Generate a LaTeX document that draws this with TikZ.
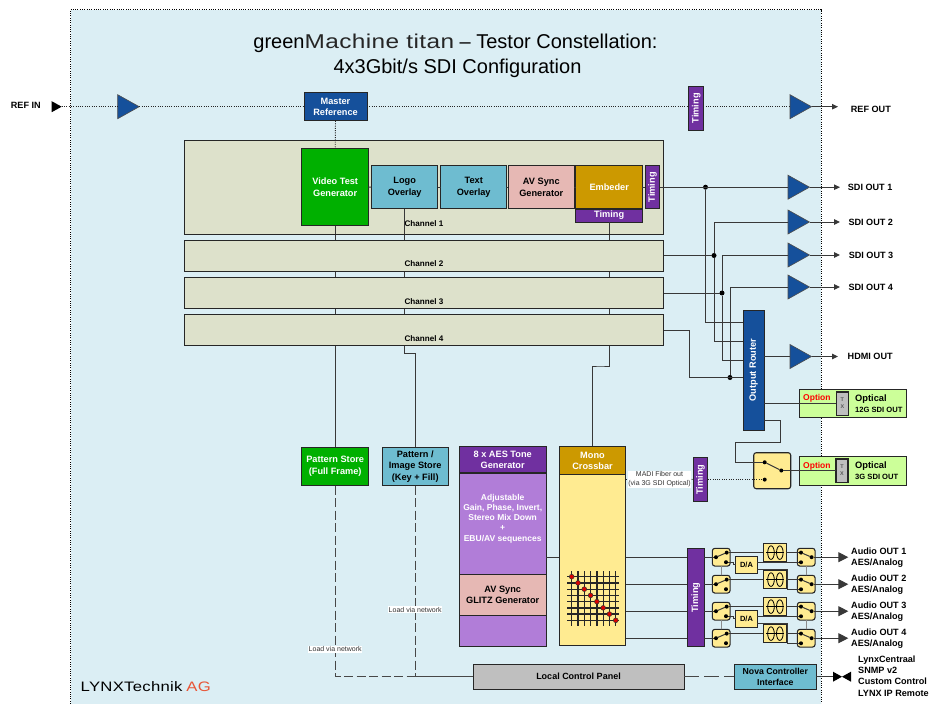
\documentclass[tikz,border=0pt]{standalone}
\usepackage{fontspec}
\setmainfont{Liberation Sans}
\newfontfamily\widefont[FakeStretch=1.22,LetterSpace=2]{Liberation Sans}
\usepackage{xcolor}
\usepackage{tikz}
\usetikzlibrary{shapes.geometric, arrows.meta, positioning}
\definecolor{panelblue}{RGB}{219,238,244}
\definecolor{routerblue}{RGB}{21,80,155}
\definecolor{chanolive}{RGB}{221,225,203}
\definecolor{videogreen}{RGB}{0,176,0}
\definecolor{overlayteal}{RGB}{110,188,208}
\definecolor{syncpink}{RGB}{230,184,180}
\definecolor{embedgold}{RGB}{204,153,0}
\definecolor{timingpurple}{RGB}{112,48,160}
\definecolor{tonepurple}{RGB}{177,125,216}
\definecolor{crossyellow}{RGB}{255,235,145}
\definecolor{optiongreen}{RGB}{204,255,153}
\definecolor{panelgrey}{RGB}{191,191,191}
\definecolor{lynxred}{RGB}{232,85,55}
\newcommand\boxfont{\fontsize{9.2}{11.5}\selectfont\bfseries}
\newcommand\tinyfont{\fontsize{7}{8.5}\selectfont}
\pgfdeclarelayer{panel}
\pgfdeclarelayer{wires}
\pgfsetlayers{panel,wires,main}
\tikzset{
  basebox/.style={draw=black!85, line width=1pt, inner sep=0pt, outer sep=0pt, align=center, font=\boxfont},
  bluebox/.style={basebox, fill=routerblue, text=white},
  greenbox/.style={basebox, fill=videogreen, text=white},
  tealbox/.style={basebox, fill=overlayteal},
  pinkbox/.style={basebox, fill=syncpink},
  goldbox/.style={basebox, fill=embedgold, text=white},
  purplebox/.style={basebox, fill=timingpurple, text=white},
  lilacbox/.style={basebox, fill=tonepurple, text=white},
  chanbox/.style={basebox, fill=chanolive},
  yellowbox/.style={basebox, fill=crossyellow},
  switchbox/.style={yellowbox, line width=1.1pt, rounded corners=2.5pt},
  optionbox/.style={basebox, fill=optiongreen, minimum width=106.5, minimum height=28.4},
  txbox/.style={basebox, line width=1.5pt, fill=panelgrey, text=black!65, font=\fontsize{5.4}{7}\selectfont\bfseries},
  buffer/.style={isosceles triangle, isosceles triangle stretches, shape border rotate=0, draw=black!70, line width=.6pt, fill=routerblue, inner sep=0pt, outer sep=0pt, minimum width=24, minimum height=21.5, anchor=west},
  blacktip/.style={isosceles triangle, isosceles triangle stretches, fill=black, inner sep=0pt, outer sep=0pt, minimum width=10, minimum height=9, anchor=apex},
  contact/.style={circle, fill=black, inner sep=0pt, outer sep=0pt, minimum size=4},
  junction/.style={circle, fill=black, inner sep=0pt, outer sep=0pt, minimum size=5},
  wire/.style={draw=black!78, line width=1pt},
  dotwire/.style={draw=black!85, line width=.9pt, dash pattern=on 1pt off 1.3pt},
  netwire/.style={draw=black!72, line width=1.1pt, dash pattern=on 9pt off 3.5pt},
  gangwire/.style={draw=black!45, line width=.8pt, dash pattern=on 2.5pt off .6pt},
  outlabel/.style={anchor=west, inner sep=0pt, align=left, font=\fontsize{9.1}{11.4}\selectfont\bfseries},
  netlabel/.style={fill=white, inner sep=.8pt, align=center, font=\tinyfont, text=black!80},
  grid line/.style={draw=black!85, line width=1.3pt},
  crosspoint/.style={circle, draw=black!80, line width=.5pt, fill=red!85!black, inner sep=0pt, minimum size=4.8},
}
\begin{document}
\begin{tikzpicture}[x=1pt,y=-1pt]
  \useasboundingbox (0,0) rectangle (932,704);
  \begin{pgfonlayer}{panel}
    \fill[panelblue] (70.5,9.5) rectangle (821,704);
    \draw[draw=black, line width=.9pt, dash pattern=on 1pt off 1.3pt] (70.5,704) -- (70.5,9.5) -- (821,9.5) -- (821,704);
  \end{pgfonlayer}

  \node[font=\fontsize{20}{25}\selectfont, align=center] (title) at (455.5,55.5)
    {green{\widefont\color{black!85}Machine titan} -- Testor Constellation:\\\hspace{4pt}4x3Gbit/s SDI Configuration};
  \node[anchor=west, inner sep=0pt, font=\fontsize{13.7}{16}\selectfont] (lynxlogo) at (80.5,687)
    {{\widefont LYNXTechnik} {\widefont\color{lynxred}AG}};

  \node[outlabel] (refinlabel) at (10.7,105.7) {REF IN};
  \node[blacktip, minimum width=11, minimum height=10] (refintip) at (61.7,106.7) {};
  \node[buffer] (bufin) at (117.7,106.7) {};
  \node[bluebox, minimum width=63, minimum height=28.5] (masterref) at (335.5,106.7) {Master\\Reference};
  \node[purplebox, minimum width=14.5, minimum height=43.5] (timingref) at (696.2,108.3) {\rotatebox{90}{Timing}};
  \node[buffer] (bufrefout) at (790,106.7) {};
  \coordinate (refoutend) at (838,106.7);
  \node[outlabel] (refoutlabel) at (850.7,109.3) {REF OUT};

  \node[chanbox, minimum width=479.4, minimum height=94] (chan1) at (424,187) {};
  \node[chanbox, minimum width=479.4, minimum height=31] (chan2) at (424,255.5) {};
  \node[chanbox, minimum width=479.4, minimum height=31] (chan3) at (424,293) {};
  \node[chanbox, minimum width=479.4, minimum height=31.5] (chan4) at (424,330.2) {};

  \node[greenbox, minimum width=66.5, minimum height=77] (videogen) at (335.2,187) {Video Test\\Generator};
  \node[tealbox, minimum width=66.5, minimum height=43.5] (logo) at (404.7,187.2) {Logo\\Overlay};
  \node[tealbox, minimum width=65.5, minimum height=43.5] (textov) at (473.7,187.2) {Text\\Overlay};
  \node[pinkbox, minimum width=66, minimum height=43.5] (avsync) at (541.3,187.2) {AV Sync\\Generator};
  \node[goldbox, minimum width=66.5, minimum height=43.5] (embed) at (609.2,187.2) {Embeder};
  \node[purplebox, minimum width=66.5, minimum height=13] (timingbar) at (609.2,215.5) {Timing};
  \node[purplebox, minimum width=14.7, minimum height=43.5] (timingch) at (652.6,187.2) {\rotatebox{90}{Timing}};

  \node[font=\fontsize{8.1}{10}\selectfont\bfseries, inner sep=0pt] (chanlabel1) at (424,223.5) {Channel 1};
  \node[font=\fontsize{8.1}{10}\selectfont\bfseries, inner sep=0pt] (chanlabel2) at (424,263.5) {Channel 2};
  \node[font=\fontsize{8.1}{10}\selectfont\bfseries, inner sep=0pt] (chanlabel3) at (424,301.5) {Channel 3};
  \node[font=\fontsize{8.1}{10}\selectfont\bfseries, inner sep=0pt] (chanlabel4) at (424,338.5) {Channel 4};

  \node[buffer] (buf1) at (788,187.2) {};
  \node[buffer] (buf2) at (788,222) {};
  \node[buffer] (buf3) at (788,255) {};
  \node[buffer] (buf4) at (788,287) {};
  \node[buffer] (bufhdmi) at (790,356.5) {};
  \coordinate (sdiend1) at (840,187.2);
  \coordinate (sdiend2) at (840,222);
  \coordinate (sdiend3) at (840,255);
  \coordinate (sdiend4) at (840,287);
  \coordinate (hdmiend) at (838,356.5);
  \node[outlabel] (sdilabel1) at (847.7,187.5) {SDI OUT 1};
  \node[outlabel] (sdilabel2) at (848.3,222.5) {SDI OUT 2};
  \node[outlabel] (sdilabel3) at (848.6,255.5) {SDI OUT 3};
  \node[outlabel] (sdilabel4) at (848.3,287) {SDI OUT 4};
  \node[outlabel] (hdmilabel) at (847.5,356) {HDMI OUT};

  \node[bluebox, minimum width=20.7, minimum height=120] (router) at (753.7,370) {\rotatebox{90}{Output Router}};
  \node[junction] (jun1) at (705.5,187.2) {};
  \node[junction] (jun2) at (714,255.5) {};
  \node[junction] (jun3) at (722,293) {};
  \node[junction] (jun4) at (730,377.5) {};
  \coordinate (routerina) at (743.3,322);
  \coordinate (routerinb) at (743.3,341);
  \coordinate (routerinc) at (743.3,360.7);
  \coordinate (routerind) at (743.3,377.5);
  \coordinate (chan4bend) at (689,330.2);
  \coordinate (routerout) at (764,420.7);

  \node[optionbox] (opt12) at (853.2,403.7) {};
  \node[optionbox] (opt3) at (853,470.8) {};
  \node[txbox, minimum width=12, minimum height=23.5] (tx12) at (842.3,403.5) {T\\X};
  \node[txbox, minimum width=12, minimum height=23.5] (tx3) at (842,470.5) {T\\X};
  \node[switchbox, minimum width=37, minimum height=36] (madisw) at (772.2,470.7) {};
  \node[contact] (madiswa) at (764.7,462.3) {};
  \node[contact] (madiswb) at (764.7,479.6) {};
  \node[contact] (madiswc) at (781.3,470.5) {};
  \node[purplebox, minimum width=14.7, minimum height=43.8] (timingmadi) at (700.6,479.6) {\rotatebox{90}{Timing}};

  \node[greenbox, minimum width=66.5, minimum height=38.2] (patfull) at (335.2,466.4) {Pattern Store\\(Full Frame)};
  \node[tealbox, minimum width=66.3, minimum height=38.2] (patimg) at (415.2,466.4) {Pattern /\\Image Store\\(Key + Fill)};
  \node[purplebox, minimum width=86.7, minimum height=26.3] (aeshead) at (502.7,459.8) {8 x AES Tone\\Generator};
  \node[lilacbox, minimum width=86.7, minimum height=173] (aesbody) at (502.7,559.5) {};
  \node[text=white, align=center, inner sep=0pt, font=\fontsize{8.5}{10.25}\selectfont\bfseries] (aestext) at (502.7,518.5)
    {Adjustable\\Gain, Phase, Invert,\\Stereo Mix Down\\+\\EBU/AV sequences};
  \node[pinkbox, minimum width=86.7, minimum height=40.8] (glitz) at (502.7,595) {AV Sync\\GLITZ Generator};
  \node[goldbox, minimum width=66.4, minimum height=28] (monohead) at (592.5,460.7) {Mono\\Crossbar};
  \node[yellowbox, minimum width=66.4, minimum height=170.6] (monobody) at (592.5,560) {};
  \node[netlabel, minimum width=61, minimum height=17] (madilabel) at (659.5,479.3) {MADI Fiber out\\(via 3G SDI Optical)};
  \node[purplebox, minimum width=16.7, minimum height=98.4] (timingaudio) at (695.7,597.5) {\rotatebox{90}{Timing}};

  \node[basebox, fill=panelgrey, minimum width=211, minimum height=25.3, font=\fontsize{9}{11}\selectfont\bfseries] (lcp) at (578.5,676.7) {Local Control Panel};
  \node[tealbox, minimum width=82, minimum height=25.3, font=\fontsize{8.7}{11}\selectfont\bfseries] (nova) at (775.3,676.7) {Nova Controller\\Interface};
  \node[blacktip] (tieleft) at (842,676.7) {};
  \node[blacktip, shape border rotate=180] (tieright) at (842,676.7) {};
  \node[outlabel] (controllabel) at (858,676) {LynxCentraal\\SNMP v2\\Custom Control\\LYNX IP Remote};

  \coordinate (logostep) at (410,353.3);
  \coordinate (embedstep) at (600,366);
  \coordinate (crossin) at (552,557.7);
  \begin{pgfonlayer}{wires}
    \draw[wire] (videogen.south) -- (patfull.north);
    \draw[wire] (logo.south) |- (logostep) -| (patimg.north);
    \draw[wire] (timingbar.south) |- (embedstep) -| (monohead.north);
  \end{pgfonlayer}

  \draw[dotwire] (refintip.apex) -- (bufin.west);
  \draw[dotwire] (bufin.apex) -- (masterref.west);
  \draw[dotwire] (masterref.east) -- (timingref.west |- masterref.east);
  \draw[dotwire] (timingref.east |- masterref.east) -- (bufrefout.west);
  \draw[dotwire] (masterref.south) -- (videogen.north);
  \draw[wire, -{Triangle[length=6pt,width=5.5pt]}] (bufrefout.apex) -- (refoutend);

  \draw[wire] (videogen.south) -- (videogen.south |- chan1.south);
  \draw[wire] (logo.south) -- (logo.south |- chan1.south);
  \draw[wire] (timingbar.south) -- (timingbar.south |- chan1.south);
  \draw[wire] (videogen.east) -- (logo.west);
  \draw[wire] (logo.east) -- (textov.west);
  \draw[wire] (textov.east) -- (avsync.west);
  \draw[wire] (avsync.east) -- (embed.west);
  \draw[wire] (embed.east) -- (timingch.west);

  \draw[wire] (timingch.east) -- (buf1.west);
  \draw[wire] (jun1) |- (routerina);
  \draw[wire] (buf2.west) -| (jun2) |- (routerinb);
  \draw[wire] (buf3.west) -| (jun3) |- (routerinc);
  \draw[wire] (buf4.west) -| (jun4);
  \draw[wire] (chan2.east) -- (jun2);
  \draw[wire] (chan3.east) -- (jun3);
  \draw[wire] (chan4.east) -- (chan4bend) |- (routerind);
  \foreach \n in {1,2,3,4}
    \draw[wire, -{Triangle[length=6pt,width=5.5pt]}] (buf\n.apex) -- (sdiend\n);
  \draw[wire, -{Triangle[length=6pt,width=5.5pt]}] (bufhdmi.apex) -- (hdmiend);
  \draw[wire] (router.east |- bufhdmi.west) -- (bufhdmi.west);
  \draw[wire] (router.east |- tx12.west) -- (tx12.west);
  \draw[wire] (routerout) -- (780,420.7) -- (780,442) -- (735.7,442) -- (735.7,462.3) -- (madiswa);
  \draw[wire] (madiswa) -- (madiswc);
  \draw[wire] (madiswc) -- (tx3.west);
  \draw[dotwire] (timingmadi.east) -- (madiswb);
  \draw[dotwire] (madilabel.east) -- (timingmadi.west);
  \draw[dotwire] (monobody.east |- madilabel.west) -- (madilabel.west);

  \node[anchor=west, inner sep=0pt, text=red, font=\fontsize{8.5}{10}\selectfont\bfseries] (optlabel12) at (803,398.7) {Option};
  \node[anchor=west, inner sep=0pt, text=red, font=\fontsize{8.5}{10}\selectfont\bfseries] (optlabel3) at (803,466) {Option};
  \node[anchor=west, inner sep=0pt, font=\fontsize{9.3}{11}\selectfont\bfseries] (optname12) at (855,399.4) {Optical};
  \node[anchor=west, inner sep=0pt, font=\fontsize{7.6}{9}\selectfont\bfseries] (optrate12) at (855,409.6) {12G SDI OUT};
  \node[anchor=west, inner sep=0pt, font=\fontsize{9.3}{11}\selectfont\bfseries] (optname3) at (855,466.4) {Optical};
  \node[anchor=west, inner sep=0pt, font=\fontsize{7.6}{9}\selectfont\bfseries] (optrate3) at (855,476.6) {3G SDI OUT};

  \draw[wire] (aesbody.east |- crossin) -- (monobody.west |- crossin);

  \foreach \i in {0,...,7} {
    \draw[grid line] (571.7+6.29*\i,571.3) -- (571.7+6.29*\i,625.7);
    \draw[grid line] (567.3,576.7+6.23*\i) -- (619.3,576.7+6.23*\i);
  }
  \foreach \i in {0,...,7}
    \node[crosspoint] (crosspoint\i) at (571.7+6.29*\i,576.7+6.23*\i) {};

  \foreach \n/\y in {1/557.2,2/584.2,3/611.2,4/638.2} {
    \node[switchbox, minimum width=17.7, minimum height=17.7] (swl\n) at (721.2,\y) {};
    \node[switchbox, minimum width=17.7, minimum height=17.7] (swr\n) at (806.2,\y) {};
    \node[yellowbox, minimum width=22.7, minimum height=17.3] (coil\n) at (774.7,\y-4.6) {};
    \draw[line width=.8pt] (771,\y-4.6) ellipse (3.3 and 6.8);
    \draw[line width=.8pt] (779.8,\y-4.6) ellipse (3.3 and 6.8);
    \draw[line width=.8pt] (766,\y-4.6) -- (784,\y-4.6);
    \node[contact] (swla\n) at (716,\y) {};
    \node[contact] (swlb\n) at (726.7,\y-4.6) {};
    \node[contact] (swlc\n) at (726,\y+5) {};
    \node[contact] (swra\n) at (801,\y-4.6) {};
    \node[contact] (swrb\n) at (801,\y+5.1) {};
    \node[contact] (swrc\n) at (811.6,\y) {};
    \coordinate (audioend\n) at (848.3,\y);
    \node[outlabel] (audiolabel\n) at (851,\y+.3) {Audio OUT \n\\AES/Analog};
    \draw[wire] (monobody.east |- swl\n.west) -- (timingaudio.west |- swl\n.west);
    \draw[wire] (timingaudio.east |- swl\n.west) -- (swla\n);
    \draw[wire] (swla\n) -- (swlb\n);
    \draw[wire] (swlb\n) -- (coil\n.west);
    \draw[wire] (coil\n.east) -- (swra\n);
    \draw[wire] (swra\n) -- (swrc\n);
    \draw[wire, -{Triangle[length=10pt,width=10pt]}] (swrc\n) -- (audioend\n);
  }
  \node[yellowbox, minimum width=21.6, minimum height=17, font=\fontsize{7.5}{9}\selectfont\bfseries] (da1) at (746.5,564.5) {D/A};
  \node[yellowbox, minimum width=21.6, minimum height=17, font=\fontsize{7.5}{9}\selectfont\bfseries] (da2) at (746.5,618.8) {D/A};
  \draw[wire] (swlc1) -- (733,562.2) -- (733,564.5) -- (da1.west);
  \draw[wire] (swlc3) -- (733,616.2) -- (733,618.8) -- (da2.west);
  \draw[wire] (da1.east |- swrb1) -- (swrb1);
  \draw[wire] (da2.east |- swrb3) -- (swrb3);
  \draw[wire] (757.3,569.3) -- (787.3,569.3) |- (swrb2);
  \draw[wire] (757.3,623.5) -- (787.3,623.5) |- (swrb4);
  \draw[gangwire] (swl1) -- (swl2);
  \draw[gangwire] (swr1) -- (swr2);
  \draw[gangwire] (swl3) -- (swl4);
  \draw[gangwire] (swr3) -- (swr4);

  \draw[netwire] (patfull.south) |- (lcp.west);
  \draw[netwire] (patimg.south) |- (lcp.west);
  \draw[netwire, dash pattern=on 15pt off 5pt] (lcp.east) -- (nova.west);
  \draw[wire] (nova.east) -- (tieleft.west);
  \node[netlabel] (loadimg) at (415.2,609.7) {Load via network};
  \node[netlabel] (loadfull) at (335.2,649.3) {Load via network};
\end{tikzpicture}
\end{document}
